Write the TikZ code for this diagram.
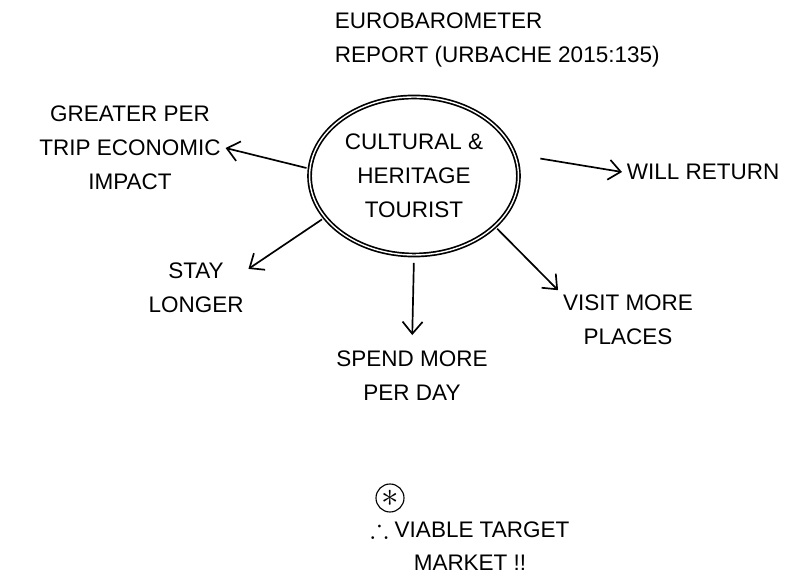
\documentclass[tikz,border=0pt]{standalone}
\usepackage{amsmath,amssymb}
\usepackage{fontspec}
\setmainfont{Liberation Sans}
\usetikzlibrary{arrows.meta, positioning, shapes.geometric}

\begin{document}
\begin{tikzpicture}[every node/.style={font=\fontsize{16}{24}\selectfont, align=center},
  link/.style={-{Straight Barb[length=3mm,width=5mm]}, very thick, shorten <=2pt}]
\useasboundingbox (0,0) rectangle (19.825,-14.475);
% source
\node[anchor=north west, align=left] (source) at (8.25,-0.2) {EUROBAROMETER\\REPORT (URBACHE 2015:135)};
% centre: the tourist
\node[ellipse, draw, very thick, double, double distance=1pt, minimum width=4.55cm, minimum height=3.95cm] (tourist) at (10.35,-4.4) {CULTURAL \&\\HERITAGE\\TOURIST};
% outcomes round it
\node (econ) at (3.25,-3.7) {GREATER PER\\TRIP ECONOMIC\\IMPACT};
\node[anchor=west] (return) at (15.55,-4.3) {WILL RETURN};
\node (stay) at (4.9,-7.2) {STAY\\LONGER};
\node (spend) at (10.3,-9.4) {SPEND MORE\\PER DAY};
\node (visit) at (15.7,-8.0) {VISIT MORE\\PLACES};
\draw[link] (tourist.176) -- (econ.east);
\draw[link, shorten <=18pt] (tourist.12) -- (return.west);
\draw[link] (tourist.205) -- (stay.20);
\draw[link, shorten <=5pt, shorten >=8pt] (tourist.south) -- (spend.north);
\draw[link] (tourist.-32) -- (visit.north west);
% conclusion
\node[circle, draw, thick, inner sep=0pt, minimum size=0.7cm, font=\fontsize{28}{28}\selectfont] (star) at (9.75,-12.45) {$\ast$};
\node (market) at (11.75,-13.62) {{\fontsize{19}{19}\selectfont$\therefore$} VIABLE TARGET\\MARKET !!};
\end{tikzpicture}
\end{document}
